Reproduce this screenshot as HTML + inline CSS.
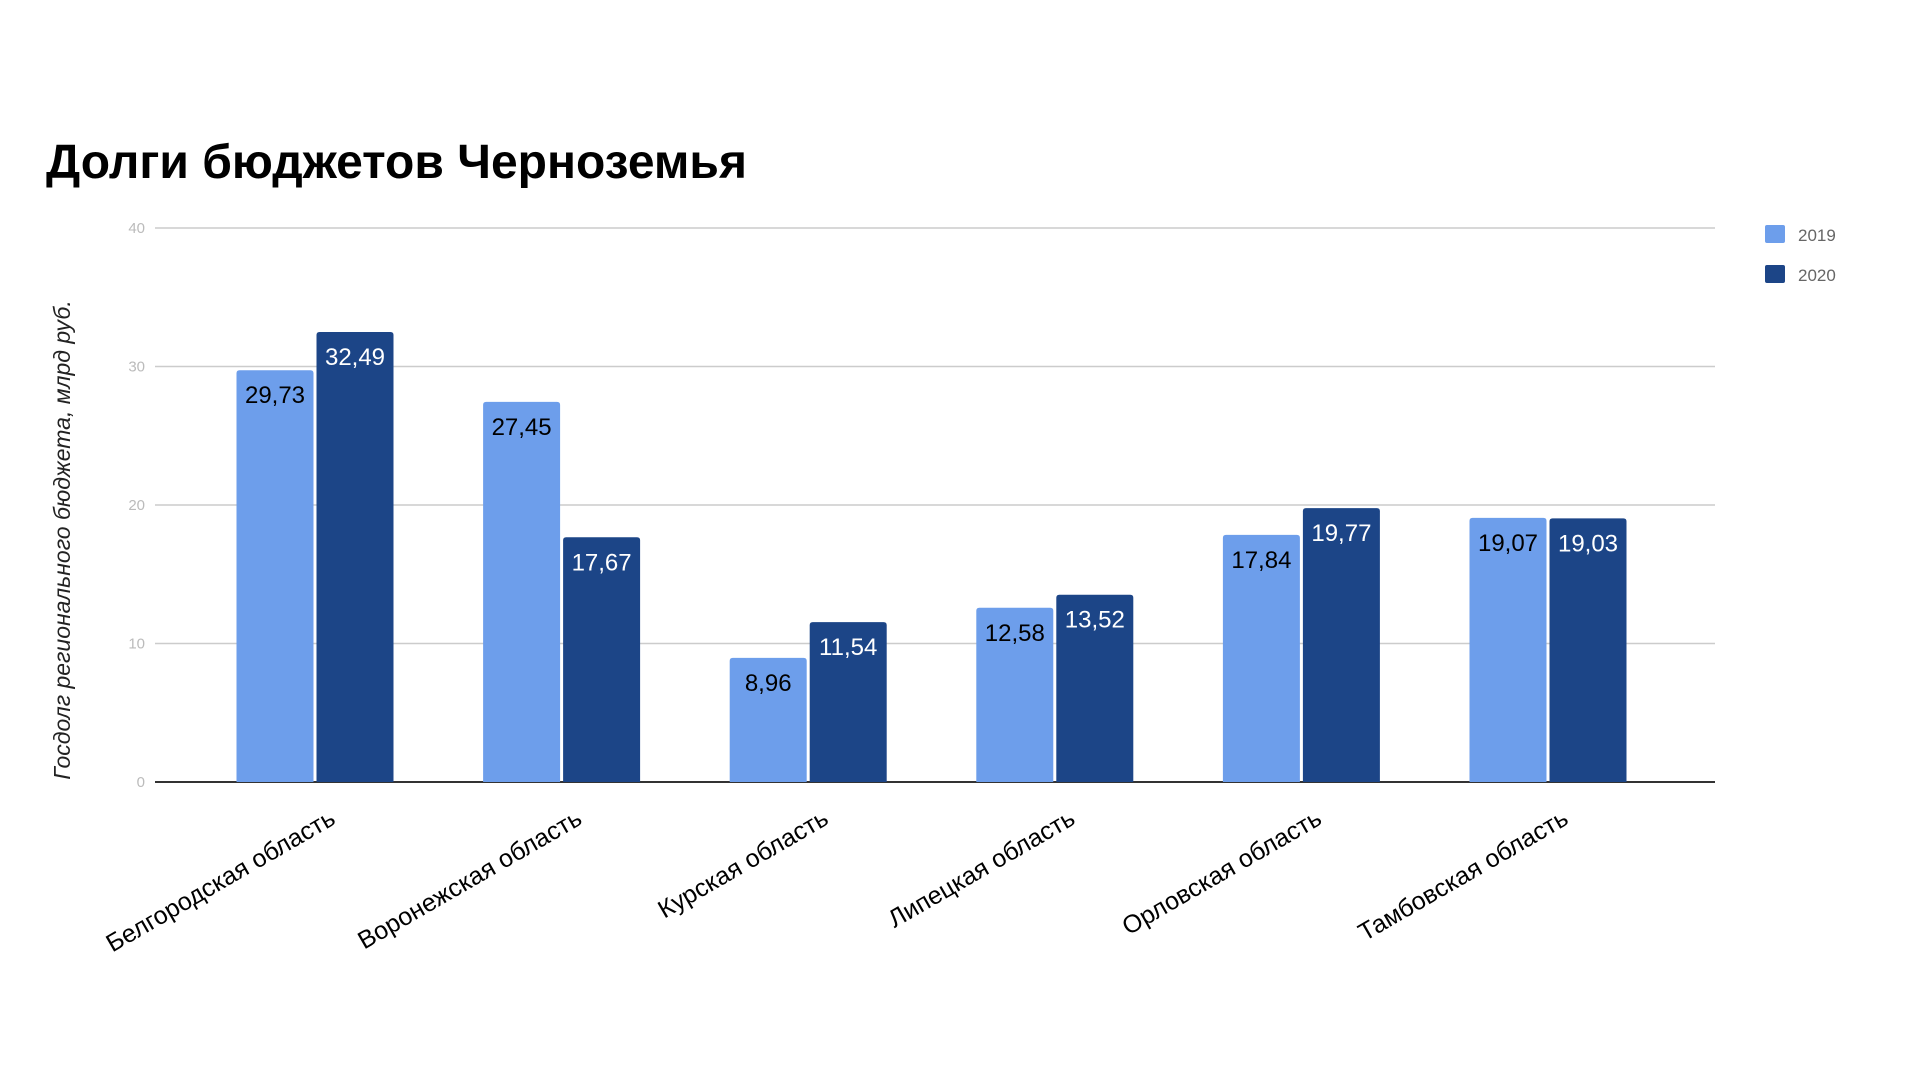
<!DOCTYPE html>
<html><head><meta charset="utf-8"><style>
body{margin:0;width:1920px;height:1080px;background:#fff;overflow:hidden}
svg{font-family:"Liberation Sans",sans-serif}
</style></head><body>
<svg width="1920" height="1080">
<text x="46" y="178" font-size="48" font-weight="bold" fill="#000">Долги бюджетов Черноземья</text>
<text transform="translate(70,540) rotate(-90)" text-anchor="middle" font-size="23" font-style="italic" fill="#222">Госдолг регионального бюджета, млрд руб.</text>
<g id="grid"></g><g id="bars"></g><g id="xl"></g>
<g>
<rect x="1765" y="225" width="20" height="18" rx="2" fill="#6d9eeb"/>
<text x="1798" y="241" font-size="17" fill="#666">2019</text>
<rect x="1765" y="265" width="20" height="18" rx="2" fill="#1c4587"/>
<text x="1798" y="281" font-size="17" fill="#666">2020</text>
</g>
</svg>
<script>
const categories=["Белгородская область","Воронежская область","Курская область","Липецкая область","Орловская область","Тамбовская область"];
const values2019=[29.73,27.45,8.96,12.58,17.84,19.07];
const values2020=[32.49,17.67,11.54,13.52,19.77,19.03];
const ticks=[0,10,20,30,40];
const NS="http://www.w3.org/2000/svg";
const y0=782,yMax=228,vMax=40;
function y(v){return y0-(v/vMax)*(y0-yMax);}
function xc(i){return 315+i*246.6;}
function mk(t,a,p){const e=document.createElementNS(NS,t);for(const k in a)e.setAttribute(k,a[k]);p.appendChild(e);return e;}
const grid=document.getElementById('grid'),bars=document.getElementById('bars'),xl=document.getElementById('xl');
ticks.forEach(t=>{
 const l=mk('line',{x1:155,x2:1715,y1:y(t),y2:y(t),stroke:t===0?'#333':'#ccc','stroke-width':t===0?2:1.5},grid);
 
 
 const tx=mk('text',{x:145,y:y(t)+5,'text-anchor':'end','font-size':15,fill:'#bbb'},grid);
 tx.textContent=t;
 
 
});
const bw=77;
categories.forEach((c,i)=>{
 [[values2019[i],'#6d9eeb','#000',-bw-1.5,'2019'],[values2020[i],'#1c4587','#fff',1.5,'2020']].forEach(([v,fill,tc,off,yr])=>{
  const x=xc(i)+off;
  const r=mk('path',{d:`M${x},${y0} V${y(v)+3} Q${x},${y(v)} ${x+3},${y(v)} H${x+bw-3} Q${x+bw},${y(v)} ${x+bw},${y(v)+3} V${y0} Z`,fill:fill},bars);
  
  
  const t=mk('text',{x:x+bw/2,y:y(v)+33,'text-anchor':'middle','font-size':24,fill:tc},bars);
  t.textContent=v.toFixed(2).replace('.',',');
  
  
 });
 const lt=mk('text',{transform:`translate(${xc(i)+22},${823}) rotate(-30)`,'text-anchor':'end','font-size':25,fill:'#000'},xl);
 lt.textContent=c;
 
 
});
</script>
</body></html>
